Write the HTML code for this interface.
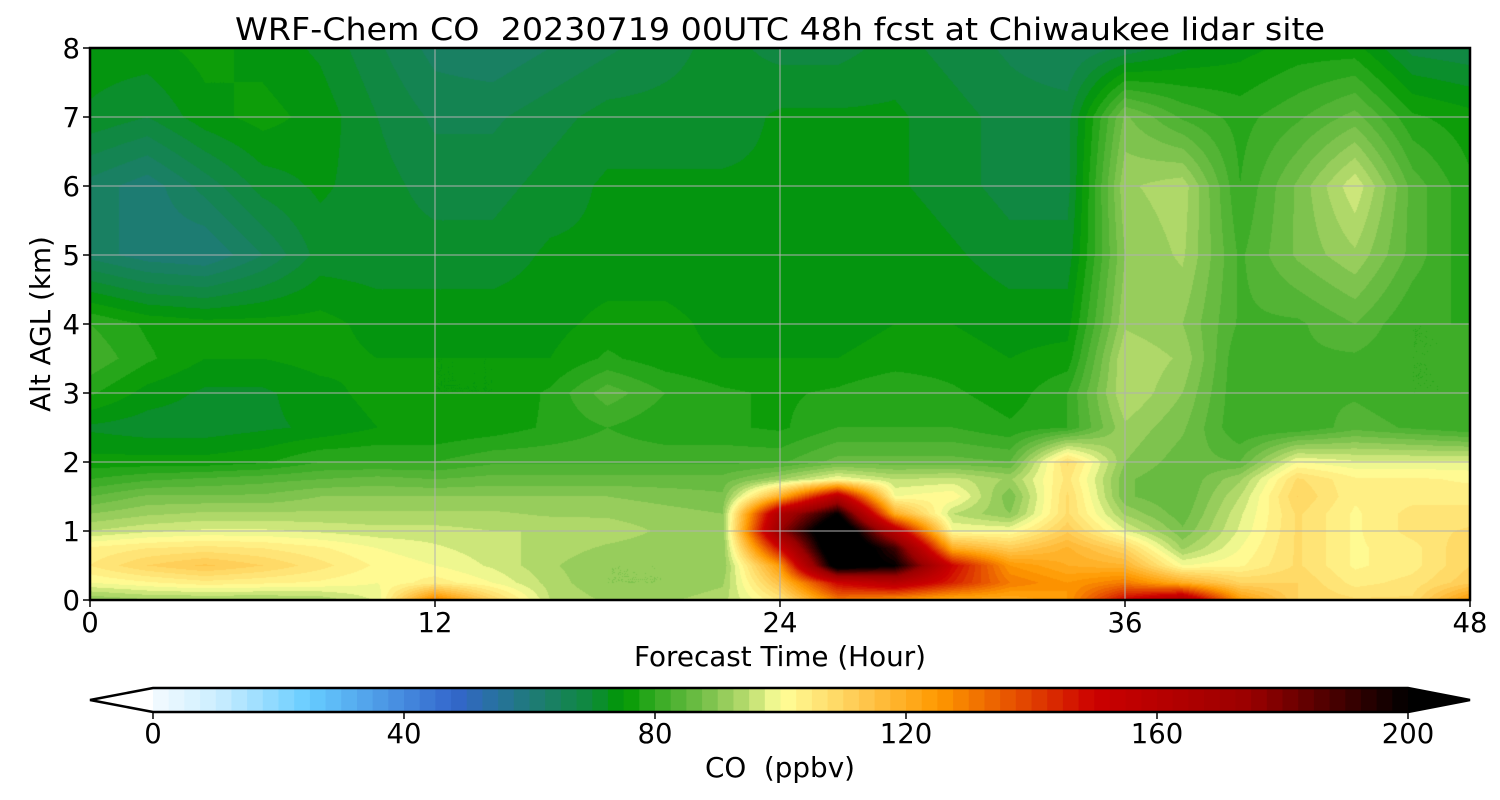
<!DOCTYPE html>
<html><head><meta charset="utf-8"><style>
body{margin:0;background:#fff;width:1500px;height:800px;overflow:hidden;font-family:"DejaVu Sans","Liberation Sans",sans-serif}
#wrap{position:relative;width:1500px;height:800px}
canvas{position:absolute}
svg{position:absolute;left:0;top:0}
text{white-space:pre;font-family:"DejaVu Sans","Liberation Sans",sans-serif}
</style></head><body>
<div id="wrap">
<canvas id="plot" width="1380" height="552" style="left:90px;top:48px"></canvas>
<svg id="ov" width="1500" height="800"></svg>
</div>
<script>
const hours=[0,2,4,6,8,10,12,14,16,18,20,22,24,26,28,30,32,34,36,38,40,42,44,46,48];
const alts=[0,0.25,0.5,0.75,1,1.25,1.5,1.75,2,2.5,3,3.5,4,5,6,7,8];
const coValues=[
[90,100,105,103,95,90,85,80,76,72,78,82,80,64,64,72,74],
[92,102,110,105,97,92,88,82,76,71,74,78,77,61,61,70,74],
[92,104,113,106,98,93,88,83,76,71,72,75,76,60,66,74,76],
[92,103,110,105,98,93,88,84,77,72,72,75,76,65,71,76,74],
[93,102,106,103,97,93,90,85,80,73,74,76,76,71,73,74,72],
[98,100,102,100,96,93,90,86,80,75,76,75,74,71,71,70,68],
[130,104,100,98,96,93,90,85,80,75,75,75,74,71,69,67,64],
[110,100,97,96,95,93,90,86,82,76,75,75,74,71,69,67,63],
[95,94,93,94,95,92,90,86,82,78,78,75,74,73,71,69,65],
[92,90,90,92,94,92,90,86,82,80,84,78,76,73,73,71,67],
[92,90,90,91,92,91,89,86,82,78,80,76,76,73,73,71,69],
[94,92,90,90,90,90,88,86,82,78,78,75,74,73,73,71,71],
[105,115,125,150,175,165,120,92,82,77,77,75,74,73,73,73,69],
[130,150,210,220,220,200,160,100,86,80,78,75,74,73,73,73,69],
[125,160,200,190,160,120,100,95,86,80,80,76,75,75,73,73,71],
[120,145,150,120,100,95,102,96,86,80,78,76,75,73,71,71,69],
[120,130,125,112,100,90,88,92,85,78,76,75,74,71,69,69,67],
[125,125,120,118,112,108,108,106,108,80,80,76,74,71,69,69,65],
[150,130,118,110,98,92,88,88,90,92,95,95,92,90,92,88,68],
[165,120,100,92,88,86,85,85,86,88,90,92,90,93,94,82,72],
[125,110,102,100,98,97,95,92,85,80,80,80,82,82,80,79,74],
[110,110,108,108,108,108,110,108,100,80,82,82,82,88,88,82,76],
[108,104,102,102,102,102,103,103,98,84,82,82,85,92,97,86,76],
[108,106,104,104,106,106,104,103,98,82,80,80,80,84,84,78,69],
[125,112,110,110,108,106,104,102,98,80,80,80,80,78,78,76,68]];
const xTicks=[0,12,24,36,48];
const yTicks=[0,1,2,3,4,5,6,7,8];
const cbTicks=[0,40,80,120,160,200];

const stops=[[0,'#f4faff'],[10,'#cceeff'],[25,'#66ccff'],[48,'#3366cc'],[60,'#1f7a7a'],[70,'#0e8a3a'],[75,'#009900'],[80,'#33aa22'],[88,'#77c04a'],[95,'#bbdd70'],[100,'#ffff99'],[112,'#ffcc55'],[125,'#ff9900'],[140,'#e04000'],[150,'#cc0000'],[175,'#990000'],[200,'#000000']];
function hex(h){return [parseInt(h.substr(1,2),16),parseInt(h.substr(3,2),16),parseInt(h.substr(5,2),16)];}
const stopsRGB=stops.map(s=>[s[0],hex(s[1])]);
function cmap(v){
  if(v<=stopsRGB[0][0])return stopsRGB[0][1];
  for(let i=1;i<stopsRGB.length;i++){if(v<=stopsRGB[i][0]){const a=stopsRGB[i-1],b=stopsRGB[i],f=(v-a[0])/(b[0]-a[0]);return [0,1,2].map(k=>Math.round(a[1][k]+(b[1][k]-a[1][k])*f));}}
  return [0,0,0];
}
function levelColor(v){
  if(v<0)return [255,255,255];
  if(v>=200)return [0,0,0];
  const l=Math.floor(v/2.5)*2.5;return cmap(l+1.25);
}
const X0=90,X1=1470,Y0=48,Y1=600;
const xs=h=>X0+(h-hours[0])/(hours[hours.length-1]-hours[0])*(X1-X0);
const ys=z=>Y1-(z/8)*(Y1-Y0);
function sample(t,z){
  let i=0;while(i<hours.length-2&&t>hours[i+1])i++;
  let j=0;while(j<alts.length-2&&z>alts[j+1])j++;
  const ft=(t-hours[i])/(hours[i+1]-hours[i]),fz=(z-alts[j])/(alts[j+1]-alts[j]);
  const a=coValues[i][j],b=coValues[i+1][j],c=coValues[i][j+1],d=coValues[i+1][j+1];
  return a*(1-ft)*(1-fz)+b*ft*(1-fz)+c*(1-ft)*fz+d*ft*fz;
}
const cv=document.getElementById('plot'),ctx=cv.getContext('2d');
const W=cv.width,H=cv.height,img=ctx.createImageData(W,H);
for(let py=0;py<H;py++){const z=(H-py-0.5)/H*8;for(let px=0;px<W;px++){const t=(px+0.5)/W*48;const c=levelColor(sample(t,z));const k=(py*W+px)*4;img.data[k]=c[0];img.data[k+1]=c[1];img.data[k+2]=c[2];img.data[k+3]=255;}}
ctx.putImageData(img,0,0);
const NS='http://www.w3.org/2000/svg',ov=document.getElementById('ov');
function el(tag,attrs,txt){const e=document.createElementNS(NS,tag);for(const k in attrs)e.setAttribute(k,attrs[k]);if(txt!==undefined)e.textContent=txt;ov.appendChild(e);return e;}
xTicks.forEach(h=>{const e=el('line',{x1:xs(h),x2:xs(h),y1:Y0,y2:Y1,stroke:'#b0b0b0','stroke-width':1});

});
yTicks.forEach(z=>{const e=el('line',{x1:X0,x2:X1,y1:ys(z),y2:ys(z),stroke:'#b0b0b0','stroke-width':1});

});
let fr=el('rect',{x:X0,y:Y0,width:X1-X0,height:Y1-Y0,fill:'none',stroke:'#000','stroke-width':2.5});


xTicks.forEach(h=>{el('line',{x1:xs(h),x2:xs(h),y1:Y1,y2:Y1+7,stroke:'#000','stroke-width':1.5});
const t=el('text',{x:xs(h),y:Y1+32,'font-size':27.5,'text-anchor':'middle'},h);

});
yTicks.forEach(z=>{el('line',{x1:X0-7,x2:X0,y1:ys(z),y2:ys(z),stroke:'#000','stroke-width':1.5});
const t=el('text',{x:X0-10,y:ys(z)+10,'font-size':27.5,'text-anchor':'end'},z);

});
let tt=el('text',{x:780,y:40,'font-size':31,'text-anchor':'middle',textLength:1090,lengthAdjust:'spacingAndGlyphs'},'WRF-Chem CO  20230719 00UTC 48h fcst at Chiwaukee lidar site');


let xl=el('text',{x:780,y:666,'font-size':27.8,'text-anchor':'middle'},'Forecast Time (Hour)');


let yl=el('text',{x:0,y:0,'font-size':27.8,'text-anchor':'middle',transform:'translate(50,324) rotate(-90)'},'Alt AGL (km)');


const C0=153,C1=1408,CT=688,CB=712;
const cs=v=>C0+v/200*(C1-C0);
for(let v=0;v<200;v+=2.5){const r=el('rect',{x:cs(v),y:CT,width:cs(v+2.5)-cs(v)+0.6,height:CB-CT,fill:'rgb('+levelColor(v+0.1).join(',')+')'});

}
let tri2=el('polygon',{points:`${C1},${CT} 1470,${(CT+CB)/2} ${C1},${CB}`,fill:'#000'});


let cbo=el('polygon',{points:`90,${(CT+CB)/2} ${C0},${CT} ${C1},${CT} 1470,${(CT+CB)/2} ${C1},${CB} ${C0},${CB}`,fill:'none',stroke:'#000','stroke-width':2.5});


cbTicks.forEach(v=>{el('line',{x1:cs(v),x2:cs(v),y1:CB,y2:CB+7,stroke:'#000','stroke-width':1.5});
const t=el('text',{x:cs(v),y:743,'font-size':27.5,'text-anchor':'middle'},v);

});
let cl=el('text',{x:780,y:777,'font-size':27.8,'text-anchor':'middle'},'CO  (ppbv)');


</script>
</body></html>
